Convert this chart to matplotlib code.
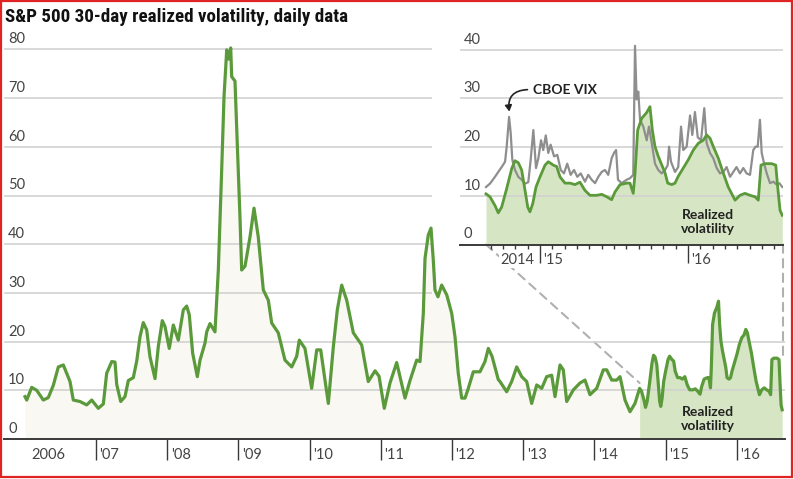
import matplotlib
matplotlib.use("Agg")
import matplotlib.pyplot as plt
from matplotlib.patches import ConnectionPatch
from matplotlib import font_manager
import numpy as np

# ---------------- data ----------------
main_years = [2006.003, 2006.027, 2006.097, 2006.167, 2006.260, 2006.330, 2006.400, 2006.471, 2006.541,
              2006.588, 2006.635, 2006.681, 2006.775, 2006.869, 2006.940, 2007.032, 2007.103, 2007.150,
              2007.221, 2007.267, 2007.291, 2007.347, 2007.407, 2007.454, 2007.524, 2007.572, 2007.618,
              2007.664, 2007.712, 2007.758, 2007.829, 2007.875, 2007.931, 2007.969, 2008.029, 2008.086,
              2008.156, 2008.226, 2008.274, 2008.310, 2008.358, 2008.423, 2008.461, 2008.531, 2008.555,
              2008.601, 2008.671, 2008.718, 2008.765, 2008.798, 2008.836, 2008.864, 2008.892, 2008.906,
              2008.952, 2008.976, 2009.022, 2009.046, 2009.093, 2009.163, 2009.219, 2009.279, 2009.350,
              2009.420, 2009.468, 2009.560, 2009.654, 2009.749, 2009.819, 2009.855, 2009.935, 2010.029,
              2010.100, 2010.156, 2010.263, 2010.333, 2010.389, 2010.451, 2010.521, 2010.614, 2010.732,
              2010.824, 2010.919, 2010.975, 2011.049, 2011.129, 2011.223, 2011.340, 2011.410, 2011.504,
              2011.551, 2011.597, 2011.621, 2011.667, 2011.705, 2011.737, 2011.761, 2011.803, 2011.855,
              2011.926, 2011.996, 2012.042, 2012.088, 2012.136, 2012.183, 2012.229, 2012.299, 2012.393,
              2012.463, 2012.510, 2012.562, 2012.650, 2012.674, 2012.768, 2012.838, 2012.909, 2012.979,
              2013.049, 2013.119, 2013.190, 2013.260, 2013.330, 2013.400, 2013.447, 2013.517, 2013.563,
              2013.611, 2013.705, 2013.798, 2013.868, 2013.938, 2014.032, 2014.125, 2014.173, 2014.243,
              2014.313, 2014.360, 2014.430, 2014.500, 2014.570]
main_vol = [8.7, 8.0, 10.6, 10.0, 8.0, 8.5, 11.0, 14.8, 15.2,
            13.5, 11.8, 8.0, 7.7, 7.0, 8.0, 6.3, 7.2, 13.5,
            15.9, 15.8, 11.2, 7.7, 8.7, 12.0, 12.6, 16.0, 21.0,
            23.9, 22.4, 16.9, 12.4, 19.0, 24.3, 23.1, 18.6, 23.4,
            20.3, 26.5, 27.3, 25.5, 17.6, 12.8, 16.2, 19.7, 22.0,
            23.7, 22.0, 34.7, 55.2, 70.3, 79.9, 78.0, 80.3, 74.4,
            73.5, 64.1, 45.6, 34.7, 35.5, 41.5, 47.4, 41.5, 30.6,
            28.5, 23.8, 21.8, 16.2, 14.8, 17.0, 20.3, 18.6, 10.4,
            18.3, 18.3, 7.3, 18.9, 26.5, 31.6, 28.5, 21.8, 19.3,
            11.8, 14.0, 12.9, 6.3, 11.5, 15.7, 8.4, 12.0, 16.2,
            15.9, 25.8, 37.1, 41.9, 43.3, 36.8, 30.6, 29.2, 31.6,
            29.6, 25.8, 21.0, 13.5, 8.4, 8.4, 10.4, 13.8, 13.8,
            15.9, 18.6, 17.0, 12.2, 11.8, 9.7, 11.8, 14.8, 12.8,
            11.8, 7.3, 11.1, 10.4, 12.8, 13.1, 8.7, 15.2, 14.2,
            7.7, 10.1, 11.5, 12.1, 9.1, 10.4, 14.2, 14.2, 12.1,
            12.1, 12.8, 8.0, 5.6, 7.3]

recent_years = [2014.635, 2014.662, 2014.696, 2014.718, 2014.741, 2014.775, 2014.809, 2014.831, 2014.853,
                2014.876, 2014.899, 2014.917, 2014.932, 2014.951, 2014.973, 2015.000, 2015.034, 2015.056,
                2015.090, 2015.113, 2015.135, 2015.169, 2015.203, 2015.236, 2015.270, 2015.304, 2015.338,
                2015.383, 2015.417, 2015.451, 2015.484, 2015.507, 2015.541, 2015.586, 2015.608, 2015.630,
                2015.642, 2015.660, 2015.687, 2015.721, 2015.743, 2015.759, 2015.777, 2015.799, 2015.822,
                2015.845, 2015.863, 2015.890, 2015.912, 2015.934, 2015.968, 2016.002, 2016.036, 2016.070,
                2016.103, 2016.126, 2016.149, 2016.171, 2016.205, 2016.239, 2016.272, 2016.318, 2016.351,
                2016.385, 2016.419, 2016.453, 2016.475, 2016.493, 2016.520, 2016.565, 2016.593, 2016.606,
                2016.622, 2016.637]
recent_vol = [10.4, 9.8, 8.0, 6.5, 7.7, 11.5, 15.6, 17.2, 16.8,
              15.3, 11.1, 7.7, 6.7, 8.4, 11.8, 13.9, 16.3, 17.0,
              16.3, 16.0, 13.9, 12.6, 12.6, 12.3, 12.8, 11.1, 10.1,
              10.1, 10.3, 9.8, 9.2, 10.8, 12.3, 12.6, 12.6, 10.5,
              14.6, 23.5, 25.9, 27.1, 28.3, 23.5, 20.1, 18.1, 16.4,
              14.7, 12.6, 12.3, 12.6, 14.0, 15.7, 17.4, 19.4, 20.8,
              21.4, 22.5, 21.8, 20.1, 17.7, 14.6, 11.8, 9.1, 10.1,
              10.5, 10.1, 9.8, 9.1, 16.3, 16.6, 16.6, 16.3, 11.8,
              7.0, 6.0]

vix_years = [2014.635, 2014.662, 2014.696, 2014.718, 2014.741, 2014.764, 2014.775, 2014.791, 2014.802,
             2014.813, 2014.831, 2014.853, 2014.876, 2014.899, 2014.921, 2014.937, 2014.955, 2014.973,
             2014.989, 2015.007, 2015.022, 2015.039, 2015.056, 2015.072, 2015.095, 2015.117, 2015.140,
             2015.162, 2015.184, 2015.207, 2015.230, 2015.252, 2015.275, 2015.304, 2015.326, 2015.349,
             2015.372, 2015.394, 2015.417, 2015.439, 2015.461, 2015.484, 2015.500, 2015.514, 2015.527,
             2015.552, 2015.586, 2015.608, 2015.630, 2015.642, 2015.653, 2015.664, 2015.676, 2015.698,
             2015.721, 2015.736, 2015.755, 2015.777, 2015.799, 2015.822, 2015.845, 2015.863, 2015.872,
             2015.885, 2015.912, 2015.934, 2015.953, 2015.968, 2015.991, 2016.014, 2016.029, 2016.047,
             2016.066, 2016.088, 2016.110, 2016.126, 2016.149, 2016.171, 2016.194, 2016.216, 2016.239,
             2016.261, 2016.284, 2016.306, 2016.328, 2016.351, 2016.374, 2016.396, 2016.419, 2016.441,
             2016.457, 2016.471, 2016.486, 2016.498, 2016.516, 2016.532, 2016.554, 2016.577, 2016.599,
             2016.617, 2016.637]
vix_vals = [11.8, 12.5, 13.9, 14.9, 15.9, 17.0, 20.1, 26.2, 22.9,
            17.4, 15.3, 13.9, 13.3, 12.5, 12.8, 17.4, 23.5, 15.7,
            17.7, 21.4, 19.4, 22.4, 18.8, 20.5, 18.1, 18.4, 15.3,
            14.6, 16.6, 14.3, 15.3, 13.9, 14.6, 12.9, 14.3, 13.3,
            12.6, 13.9, 14.9, 15.3, 14.3, 17.7, 18.8, 19.4, 13.3,
            12.6, 13.3, 13.6, 14.3, 40.8, 29.8, 31.4, 25.6, 24.2,
            21.4, 24.2, 20.8, 16.6, 15.3, 14.6, 15.3, 16.3, 20.1,
            17.0, 14.9, 15.9, 24.2, 19.4, 20.1, 26.5, 22.5, 27.2,
            22.0, 21.4, 28.0, 20.8, 18.8, 17.7, 15.7, 14.6, 14.9,
            15.9, 13.9, 14.9, 15.9, 14.6, 15.7, 14.6, 14.3, 19.4,
            20.1, 20.1, 25.6, 18.8, 16.4, 14.6, 12.6, 12.9, 12.3,
            12.6, 11.8]

main_yticks = [0, 10, 20, 30, 40, 50, 60, 70, 80]
inset_yticks = [0, 10, 20, 30, 40]
main_xticks = [2007, 2008, 2009, 2010, 2011, 2012, 2013, 2014, 2015, 2016]
main_xlabels = ["'07", "'08", "'09", "'10", "'11", "'12", "'13", "'14", "'15", "'16"]
first_label = "2006"
inset_xticks = [2015, 2016]
inset_xlabels = ["'15", "'16"]
inset_first_label = "2014"

title = "S&P 500 30-day realized volatility, daily data"
vix_label = "CBOE VIX"
realized_label = "Realized\nvolatility"

# ---------------- style ----------------
avail = {f.name for f in font_manager.fontManager.ttflist}
def pick(cands):
    for c in cands:
        if c in avail:
            return c
    return "DejaVu Sans"
FONT = pick(["Lato", "Open Sans", "Noto Sans", "DejaVu Sans"])
TFONT = pick(["Liberation Sans Narrow", "Roboto Condensed", "Lato", "DejaVu Sans"])
plt.rcParams["font.family"] = FONT

GREEN = "#5b9a3b"
GREEN_FILL = "#d6e5c3"
BEIGE = "#f9f8f3"
GRID = "#d2d2d2"
AXIS = "#3a3a3a"
TXT = "#444444"
VIXC = "#8e8e8e"

W, H = 794, 479
fig = plt.figure(figsize=(W / 100, H / 100), dpi=100)
fig.patch.set_facecolor("white")

def fx(px):
    return px / W
def fy(py):
    return 1 - py / H

SC = 4.87  # pixels per unit
m_left, m_right, m_bot, m_top = 4, 785, 439, 45
ax = fig.add_axes([fx(m_left), fy(m_bot), (m_right - m_left) / W, (m_bot - m_top) / H])
def px2yr(px):
    return 2007 + (px - 96) / 71.2
ax.set_xlim(px2yr(m_left), px2yr(m_right))
ax.set_ylim(0, (m_bot - m_top) / SC)
ax.set_facecolor("none")
for s in ["top", "right", "left"]:
    ax.spines[s].set_visible(False)
ax.spines["bottom"].set_color(AXIS)
ax.spines["bottom"].set_linewidth(1.4)
ax.set_yticks([])

full_years = np.array(main_years + recent_years)
full_vol = np.array(main_vol + recent_vol)
split = recent_years[0]

ax.fill_between(main_years + [split], main_vol + [recent_vol[0]], 0, color=BEIGE, lw=0, zorder=1)
ax.fill_between(recent_years, recent_vol, 0, color=GREEN_FILL, lw=0, zorder=1)

grid_cut = px2yr(432)
x0, x1 = ax.get_xlim()
for v in main_yticks[1:]:
    xe = grid_cut if v >= 30 else x1
    ax.hlines(v, x0, xe, color=GRID, lw=1.2, zorder=2)
for v in main_yticks:
    ax.annotate(str(v), xy=(0, v), xycoords=("axes fraction", "data"), xytext=(3, 2.2),
                textcoords="offset points", ha="left", va="bottom", fontsize=10.5, color=TXT)

ax.plot(full_years, full_vol, color=GREEN, lw=2.3, zorder=4, solid_joinstyle="round")

ax.set_xticks(main_xticks)
ax.set_xticklabels([])
ax.tick_params(axis="x", direction="out", length=15, width=1.0, color=AXIS)
for t, lab in zip(main_xticks, main_xlabels):
    ax.annotate(lab, xy=(t, 0), xycoords=("data", "axes fraction"), xytext=(2.5, -11.5),
                textcoords="offset points", ha="left", va="center", fontsize=10.5, color=TXT)
ax.annotate(first_label, xy=(px2yr(48), 0), xycoords=("data", "axes fraction"), xytext=(0, -11.5),
            textcoords="offset points", ha="center", va="center", fontsize=10.5, color=TXT)

ax.text(2015.6, 4.1, realized_label, ha="center", va="center", fontsize=10,
        fontweight="bold", color="#222222", linespacing=1.15, zorder=5)

# ---------------- inset ----------------
i_left, i_right, i_bot, i_top = 460, 783, 244.5, 40
axi = fig.add_axes([fx(i_left), fy(i_bot), (i_right - i_left) / W, (i_bot - i_top) / H])
def ipx2yr(px):
    return 2015 + (px - 540) / 148
axi.set_xlim(ipx2yr(i_left), ipx2yr(i_right))
axi.set_ylim(0, (i_bot - i_top) / SC)
axi.set_facecolor("none")
for s in ["top", "right", "left"]:
    axi.spines[s].set_visible(False)
axi.spines["bottom"].set_color(AXIS)
axi.spines["bottom"].set_linewidth(1.4)
axi.set_yticks([])

axi.fill_between(recent_years, recent_vol, 0, color=GREEN_FILL, lw=0, zorder=1)
for v in inset_yticks[1:]:
    axi.axhline(v, color=GRID, lw=1.2, zorder=2)
for v in inset_yticks:
    axi.annotate(str(v), xy=(0, v), xycoords=("axes fraction", "data"), xytext=(2.5, 2.2),
                 textcoords="offset points", ha="left", va="bottom", fontsize=10.5, color=TXT)
axi.plot(vix_years, vix_vals, color=VIXC, lw=1.6, zorder=3)
axi.plot(recent_years, recent_vol, color=GREEN, lw=2.0, zorder=4)

months = [2014 + m / 12 for m in range(8, 32) if (2014 + m / 12) not in (2015.0, 2016.0)]
axi.set_xticks(months, minor=True)
axi.set_xticks(inset_xticks)
axi.set_xticklabels([])
axi.tick_params(axis="x", which="major", direction="out", length=13, width=1.0, color=AXIS)
axi.tick_params(axis="x", which="minor", direction="out", length=3, width=1.0, color=AXIS)
for t, lab in zip(inset_xticks, inset_xlabels):
    axi.annotate(lab, xy=(t, 0), xycoords=("data", "axes fraction"), xytext=(2.5, -11),
                 textcoords="offset points", ha="left", va="center", fontsize=10.5, color=TXT)
axi.annotate(inset_first_label, xy=(2015, 0), xycoords=("data", "axes fraction"), xytext=(-4, -11),
             textcoords="offset points", ha="right", va="center", fontsize=10.5, color=TXT,
             bbox=dict(boxstyle="square,pad=0.1", fc="white", ec="none"), zorder=6)

axi.text(2016.135, 4.6, realized_label, ha="center", va="center", fontsize=10,
         fontweight="bold", color="#222222", linespacing=1.15, zorder=5)
axi.text(2014.953, 31.7, vix_label, ha="left", va="center", fontsize=10,
         fontweight="bold", color="#222222", zorder=5)
axi.annotate("", xy=(2014.793, 27.3), xytext=(2014.915, 31.8),
             arrowprops=dict(arrowstyle="-|>,head_length=0.35,head_width=0.2", color="#222222",
                             lw=1.2, connectionstyle="arc3,rad=0.55", shrinkA=0, shrinkB=0), zorder=5)

# dashed connectors
for (xa, ya, xb, yb) in [(recent_years[0], 0, recent_years[0], 11.5),
                         (ipx2yr(783), 0, px2yr(783), 17.2)]:
    con = ConnectionPatch(xyA=(xa, ya), coordsA=axi.transData, xyB=(xb, yb), coordsB=ax.transData,
                          color="#b0b0b0", lw=1.5, linestyle=(0, (4, 3)), zorder=0)
    fig.add_artist(con)

# title
fig.text(fx(5), fy(17), title, ha="left", va="center", fontsize=13.7, fontweight="bold",
         color="#111111", family=TFONT)

# red frame
frame = plt.Rectangle((0.001, 0.004), 0.996, 0.994, transform=fig.transFigure, fill=False,
                      edgecolor="#e02424", lw=1.6)
fig.add_artist(frame)

fig.savefig("out.png", dpi=100)
